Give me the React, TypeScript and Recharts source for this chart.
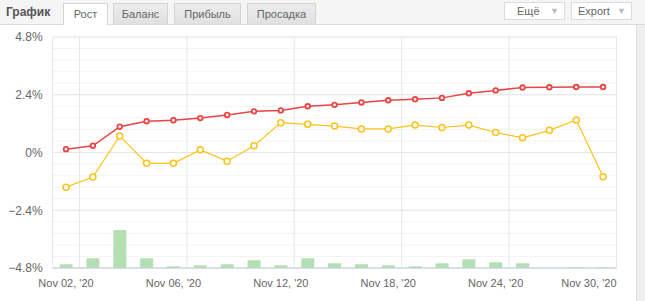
import React from "react";
import {
  ComposedChart,
  Line,
  Bar,
  XAxis,
  YAxis,
  CartesianGrid,
} from "recharts";

const categories = [
  "Nov 02, '20", "Nov 03, '20", "Nov 04, '20", "Nov 05, '20", "Nov 06, '20",
  "Nov 09, '20", "Nov 10, '20", "Nov 11, '20", "Nov 12, '20", "Nov 13, '20",
  "Nov 16, '20", "Nov 17, '20", "Nov 18, '20", "Nov 19, '20", "Nov 20, '20",
  "Nov 23, '20", "Nov 24, '20", "Nov 25, '20", "Nov 26, '20", "Nov 27, '20",
  "Nov 30, '20",
];

const growth = [
  0.14, 0.28, 1.07, 1.3, 1.34, 1.43, 1.56, 1.71, 1.75, 1.92, 1.98,
  2.08, 2.17, 2.21, 2.27, 2.46, 2.58, 2.7, 2.71, 2.72, 2.72,
];

const equity = [
  -1.44, -1.02, 0.69, -0.45, -0.45, 0.11, -0.36, 0.28, 1.24, 1.17, 1.1,
  0.98, 0.98, 1.14, 1.04, 1.14, 0.83, 0.61, 0.92, 1.35, -1.01,
];

const activity = [
  3.7, 9.7, 38, 9.7, 1.7, 2.7, 3.7, 7.7, 2.7, 9.7, 4.7,
  3.7, 2.7, 1.7, 4.7, 8.7, 5.7, 4.7, 0, 0.7, 0.7,
];

const yDomain: [number, number] = [-4.8, 4.8];
const majorTicks = [-4.8, -2.4, 0, 2.4, 4.8];
const minorTicks = [
  -4.8, -4.32, -3.84, -3.36, -2.88, -2.4, -1.92, -1.44, -0.96, -0.48, 0,
  0.48, 0.96, 1.44, 1.92, 2.4, 2.88, 3.36, 3.84, 4.32, 4.8,
];
// vertical grid lines sit on category boundaries (index - 0.5 / + 0.5)
const gridBoundaries = [-0.5, 0.5, 4.5, 8.5, 12.5, 16.5, 20.5];

const data = categories.map((c, i) => ({
  date: c,
  growth: growth[i],
  equity: equity[i],
  activity: activity[i],
}));

const fmtPct = (v: number) =>
  v === 0 ? "0%" : (v < 0 ? "\u2212" + Math.abs(v).toFixed(1) : v.toFixed(1)) + "%";

const font = "'Liberation Sans', Arial, sans-serif";

const XTick = (props: any) => {
  const { x, y, payload } = props;
  const last = payload.value === categories[categories.length - 1];
  return (
    <text
      x={last ? x + 13.5 : x}
      y={y}
      dy="0.71em"
      textAnchor={last ? "end" : "middle"}
      fill="#666"
      fontSize={11}
      fontFamily={font}
    >
      {payload.value}
    </text>
  );
};

const yToPx = (offset: any, v: number) =>
  offset.top + ((yDomain[1] - v) / (yDomain[1] - yDomain[0])) * offset.height;

const minorGen = ({ offset }: any) => minorTicks.map((v) => yToPx(offset, v));
const majorGen = ({ offset }: any) => majorTicks.map((v) => yToPx(offset, v));
const vertGen = ({ offset }: any) =>
  gridBoundaries.map(
    (b) => offset.left + ((b + 0.5) / categories.length) * offset.width
  );

const tabBase: React.CSSProperties = {
  position: "absolute",
  top: 3,
  height: 21,
  boxSizing: "border-box",
  border: "1px solid #d4d4d4",
  borderBottom: "none",
  background: "linear-gradient(#ececec, #e0e0e0)",
  color: "#666",
  fontSize: 11,
  lineHeight: "21px",
  textAlign: "center",
  fontFamily: font,
};

const btnBase: React.CSSProperties = {
  position: "absolute",
  top: 2,
  height: 18,
  width: 61,
  boxSizing: "border-box",
  border: "1px solid #dcdcdc",
  background: "#fff",
  color: "#666",
  fontSize: 11,
  lineHeight: "16px",
  fontFamily: font,
};

export default function App() {
  return (
    <div
      style={{
        position: "fixed",
        left: 0,
        top: 0,
        width: 645,
        height: 301,
        background: "#fff",
        overflow: "hidden",
      }}
    >
      <div style={{ position: "absolute", left: 0, top: 0 }}>
        <ComposedChart
          width={636}
          height={301}
          data={data}
          margin={{ top: 37, right: 19.5, bottom: 3, left: 7.6 }}
        >
          <CartesianGrid
            vertical={false}
            horizontalCoordinatesGenerator={minorGen}
            stroke="#f3f3f3"
          />
          <CartesianGrid
            horizontalCoordinatesGenerator={majorGen}
            verticalCoordinatesGenerator={vertGen}
            stroke="#e6e6e6"
          />
          <XAxis
            dataKey="date"
            interval={3}
            axisLine={{ stroke: "#c0d0e0" }}
            tickLine={false}
            tickMargin={5}
            height={30}
            tick={<XTick />}
          />
          <YAxis
            yAxisId="pct"
            domain={yDomain}
            ticks={majorTicks}
            tickFormatter={fmtPct}
            axisLine={false}
            tickLine={false}
            tickMargin={4}
            width={45}
            tick={{ fill: "#666", fontSize: 12, fontFamily: font }}
            allowDataOverflow
          />
          <YAxis
            yAxisId="bars"
            orientation="right"
            domain={[0, 231]}
            hide
            allowDataOverflow
          />
          <Bar
            yAxisId="bars"
            dataKey="activity"
            fill="#b3dfb1"
            barSize={13}
            isAnimationActive={false}
          />
          <Line
            yAxisId="pct"
            dataKey="equity"
            stroke="#fbc21b"
            strokeWidth={1.2}
            dot={{ r: 3, fill: "#fff", stroke: "#fbc21b", strokeWidth: 1.5 }}
            isAnimationActive={false}
          />
          <Line
            yAxisId="pct"
            dataKey="growth"
            stroke="#ec4343"
            strokeWidth={1.5}
            dot={{ r: 2.3, fill: "#fff", stroke: "#ec4343", strokeWidth: 1.8 }}
            isAnimationActive={false}
          />
        </ComposedChart>
      </div>

      {/* header */}
      <div
        style={{
          position: "absolute",
          left: 0,
          top: 0,
          width: 645,
          height: 24,
          background: "#f5f5f5",
          borderBottom: "1px solid #dadada",
        }}
      />
      <div
        style={{
          position: "absolute",
          left: 6,
          top: 5,
          fontSize: 12,
          fontWeight: "bold",
          color: "#555",
          fontFamily: font,
        }}
      >
        График
      </div>
      <div
        style={{
          ...tabBase,
          left: 63,
          width: 45,
          height: 22,
          background: "#fff",
        }}
      >
        Рост
      </div>
      <div style={{ ...tabBase, left: 113, width: 55 }}>Баланс</div>
      <div style={{ ...tabBase, left: 174, width: 67 }}>Прибыль</div>
      <div style={{ ...tabBase, left: 247, width: 69 }}>Просадка</div>

      <div style={{ ...btnBase, left: 504 }}>
        <span style={{ position: "absolute", left: 12 }}>Ещё</span>
        <span
          style={{ position: "absolute", right: 5, color: "#bbb", fontSize: 9 }}
        >
          ▼
        </span>
      </div>
      <div style={{ ...btnBase, left: 571 }}>
        <span style={{ position: "absolute", left: 6 }}>Export</span>
        <span
          style={{ position: "absolute", right: 5, color: "#bbb", fontSize: 9 }}
        >
          ▼
        </span>
      </div>

      {/* right side strip */}
      <div
        style={{
          position: "absolute",
          left: 636,
          top: 25,
          width: 9,
          height: 276,
          boxSizing: "border-box",
          background: "#efefef",
          borderLeft: "1px solid #dedede",
        }}
      />
    </div>
  );
}
